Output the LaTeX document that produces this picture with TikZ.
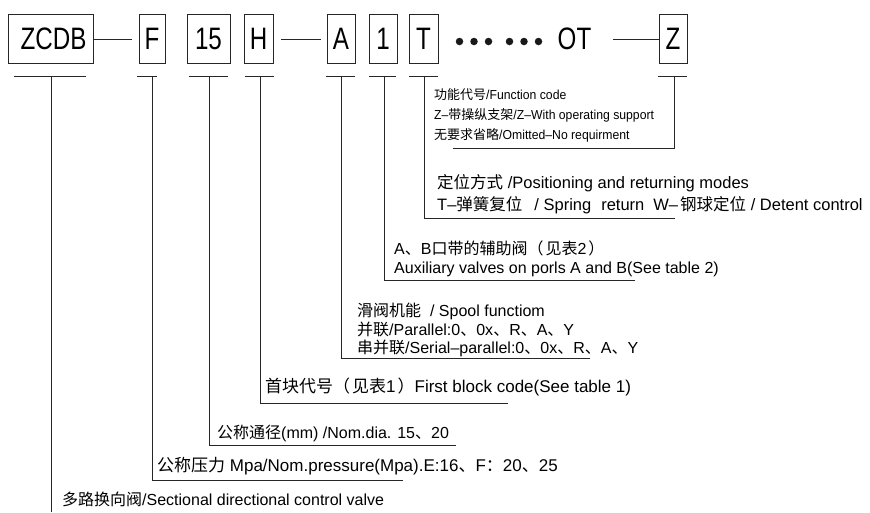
\documentclass[tikz,border=0pt]{standalone}
\usepackage{fontspec}
\setmainfont{Liberation Sans}
\newfontfamily\cjk{Noto Sans CJK SC}
\newfontfamily\narrowfont[FakeStretch=0.94]{Liberation Sans}
\newfontfamily\boxfont[FakeStretch=0.78]{Liberation Sans}
\newcommand\zh[1]{{\cjk #1}}
\tikzset{
  ln/.style={line width=0.9pt, draw=black!85},
  codebox/.style={ln, draw, minimum height=49pt, inner sep=0pt, font=\boxfont\fontsize{31}{31}\selectfont},
  codetext/.style={inner sep=0pt, font=\boxfont\fontsize{31}{31}\selectfont},
  lbl/.style={anchor=base west, inner sep=0pt, font=\fontsize{16}{19}\selectfont},
  blbl/.style={anchor=base west, inner sep=0pt, font=\fontsize{17}{19}\selectfont},
  tlbl/.style={anchor=base west, inner sep=0pt, font=\fontsize{16.5}{19}\selectfont},
  nlbl/.style={anchor=base west, inner sep=0pt, font=\narrowfont\fontsize{13}{15}\selectfont},
  dot/.style={fill=black!90, draw=none, circle, minimum size=7.5pt, inner sep=0pt}
}
\begin{document}
\begin{tikzpicture}[x=1pt,y=-1pt]
\useasboundingbox (0,0) rectangle (870,512);
% code boxes
\node[codebox, minimum width=85pt] (zcdb) at (50.5,38.5) {\hspace*{6pt}ZCDB};
\node[codebox, minimum width=26pt] (f) at (152,38.5) {F};
\node[codebox, minimum width=43pt] (n15) at (208.5,38.5) {15};
\node[codebox, minimum width=29pt] (h) at (258.5,38.5) {H};
\node[codebox, minimum width=28pt] (a) at (341,38.5) {A};
\node[codebox, minimum width=28pt] (one) at (383,38.5) {1};
\node[codebox, minimum width=29pt] (t) at (423.5,38.5) {T};
\node[codebox, minimum width=28pt] (z) at (673,38.5) {Z};
% dots and OT
\foreach \i/\x in {1/459.5,2/474,3/488.5,4/509.5,5/524,6/538.5}
  \node[dot] (d\i) at (\x,41.5) {};
\node[codetext] (ot) at (574.5,38.5) {OT};
% connectors between boxes
\coordinate (c1) at (132,39);
\coordinate (c2) at (281,39);
\coordinate (c3) at (321,39);
\coordinate (c4) at (613,39);
\draw[ln] (zcdb.east|-c1) -- (c1);
\draw[ln] (c2) -- (c3);
\draw[ln] (c4) -- (z.west|-c4);
% bars under boxes
\coordinate (bzcdb) at (51,76);
\coordinate (bf) at (152,76);
\coordinate (b15) at (209,76);
\coordinate (bh) at (260,76);
\coordinate (ba) at (341,76);
\coordinate (bone) at (384,76);
\coordinate (bt) at (424,76);
\coordinate (bz) at (674,76);
\draw[ln] (14,76) -- (86,76);
\draw[ln] (137,76) -- (157,76);
\draw[ln] (189,76) -- (228,76);
\draw[ln] (245,76) -- (274,76);
\draw[ln] (326,76) -- (355,76);
\draw[ln] (369,76) -- (396,76);
\draw[ln] (409,76) -- (438,76);
\draw[ln] (658,76) -- (687,76);
% leader end points
\coordinate (ez) at (453,148);
\coordinate (et) at (675,218);
\coordinate (eone) at (635,280);
\coordinate (ea) at (590,358);
\coordinate (eh) at (508,403);
\coordinate (e15) at (456,445);
\coordinate (ef) at (403,480);
\coordinate (ezcdb) at (51,512);
\draw[ln] (bz) |- (ez);
\draw[ln] (bt) |- (et);
\draw[ln] (bone) |- (eone);
\draw[ln] (ba) |- (ea);
\draw[ln] (bh) |- (eh);
\draw[ln] (b15) |- (e15);
\draw[ln] (bf) |- (ef);
\draw[ln] (bzcdb) -- (ezcdb);
% labels
\node[nlbl] (lz1) at (434,99.5) {\zh{功能代号}/Function code};
\node[nlbl] (lz2) at (434,119.5) {Z–\zh{带操纵支架}/Z–With operating support};
\node[nlbl] (lz3) at (434,139.5) {\zh{无要求省略}/Omitted–No requirment};
\node[tlbl] (lt1) at (437,188) {\zh{定位方式} /Positioning and returning modes};
\node[tlbl] (lt2) at (437,210) {T–\zh{弹簧复位}\hspace{12pt}/ Spring\hspace{10pt}return\hspace{9pt}W–\hspace{2pt}\zh{钢球定位} / Detent control};
\node[lbl] (lo1) at (394,254) {A\zh{、}B\zh{口带的辅助阀（}\hspace{2pt}\zh{见表}2\hspace{2pt}\zh{）}};
\node[lbl] (lo2) at (394,273) {Auxiliary valves on porls A and B(See table 2)};
\node[lbl] (la1) at (357,316) {\zh{滑阀机能}\ \ / Spool functiom};
\node[lbl] (la2) at (357,335) {\zh{并联}/Parallel:0\zh{、}0x\zh{、}R\zh{、}A\zh{、}Y};
\node[lbl] (la3) at (357,353) {\zh{串并联}/Serial–parallel:0\zh{、}0x\zh{、}R\zh{、}A\zh{、}Y};
\node[blbl] (lh) at (265,392) {\zh{首块代号（}\hspace{2pt}\zh{见表}1\hspace{2pt}\zh{）}First block code(See table 1)};
\node[lbl] (l15) at (217,438) {\zh{公称通径}(mm) /Nom.dia. 15\zh{、}20};
\node[blbl] (lf) at (157,471) {\zh{公称压力} Mpa/Nom.pressure(Mpa).E:16\zh{、}F\zh{：}20\zh{、}25};
\node[lbl] (lzcdb) at (62,505) {\zh{多路换向阀}/Sectional directional control valve};
\end{tikzpicture}
\end{document}
